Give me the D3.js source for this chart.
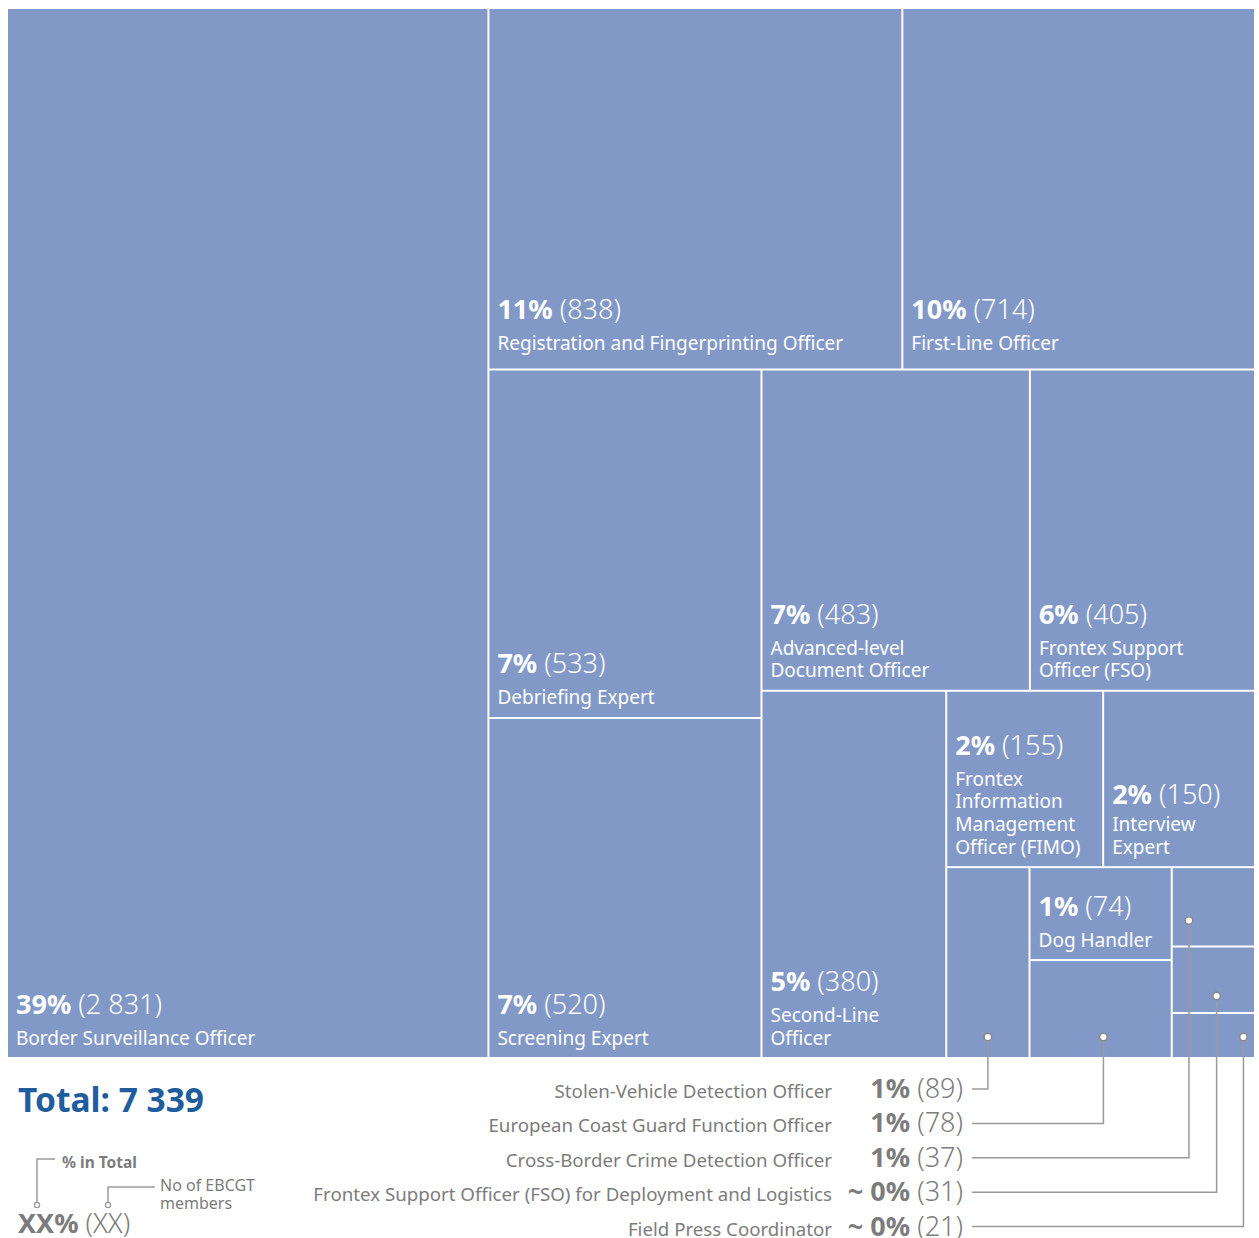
<!DOCTYPE html>
<html>
<head>
<meta charset="utf-8">
<script src="https://cdn.jsdelivr.net/npm/d3@7"></script>
<style>
  html, body { margin: 0; padding: 0; background: #fff; }
  svg { display: block; font-family: "Noto Sans", "Open Sans", sans-serif; }
</style>
</head>
<body>
<svg id="chart" width="1259" height="1238"></svg>
<script>
// EBCGT members by profile
const roles = [
  "Border Surveillance Officer",
  "Registration and Fingerprinting Officer",
  "First-Line Officer",
  "Debriefing Expert",
  "Screening Expert",
  "Advanced-level Document Officer",
  "Frontex Support Officer (FSO)",
  "Second-Line Officer",
  "Frontex Information Management Officer (FIMO)",
  "Interview Expert",
  "Stolen-Vehicle Detection Officer",
  "Dog Handler",
  "European Coast Guard Function Officer",
  "Cross-Border Crime Detection Officer",
  "Frontex Support Officer (FSO) for Deployment and Logistics",
  "Field Press Coordinator"
];
const members = [2831, 838, 714, 533, 520, 483, 405, 380, 155, 150, 89, 74, 78, 37, 31, 21];

// how names wrap inside their tiles
const cellLines = [
  ["Border Surveillance Officer"],
  ["Registration and Fingerprinting Officer"],
  ["First-Line Officer"],
  ["Debriefing Expert"],
  ["Screening Expert"],
  ["Advanced-level", "Document Officer"],
  ["Frontex Support", "Officer (FSO)"],
  ["Second-Line", "Officer"],
  ["Frontex", "Information", "Management", "Officer (FIMO)"],
  ["Interview", "Expert"],
  null, ["Dog Handler"], null, null, null, null
];

// tiles are grouped into strips, peeled off one strip at a time
const strips = [[0], [1, 2], [3, 4], [5, 6], [7], [8, 9], [10], [11, 12], [13, 14, 15]];

// small tiles labelled below the map, in row order
const callouts = [10, 12, 13, 14, 15];
const calloutFrac = [0.5, 0.52, 0.2, 0.54, 0.87];
const calloutLift = [20, 20, 25, 16, 20];

const fill = "#8299c8";
const grey = "#7c7c7c";
const lineGrey = "#9a9a9a";
const blue = "#1f5d9c";

const fmt = d3.formatLocale({ decimal: ".", thousands: " ", grouping: [3], currency: ["", ""] }).format(",d");
const total = d3.sum(members);
const shareLabel = v => {
  const p = Math.round(v / total * 100);
  return p === 0 ? "~ 0%" : p + "%";
};

// nested hierarchy from the strips
const leaf = i => ({ idx: i, value: members[i] });
const stripNode = s => s.length === 1 ? leaf(s[0]) : { children: s.map(leaf) };
function nest(k) {
  if (k === strips.length - 2) return { children: [stripNode(strips[k]), stripNode(strips[k + 1])] };
  return { children: [stripNode(strips[k]), nest(k + 1)] };
}
const root = d3.hierarchy(nest(0)).sum(d => d.value || 0);

// lay each group along its longer side
const tile = (node, x0, y0, x1, y1) =>
  (x1 - x0 > y1 - y0 ? d3.treemapDice : d3.treemapSlice)(node, x0, y0, x1, y1);

d3.treemap().tile(tile).size([1246, 1048]).paddingInner(2)(root);

const svg = d3.select("#chart");
const g = svg.append("g").attr("transform", "translate(8,9)");

const leaves = root.leaves();
const byIdx = new Map(leaves.map(d => [d.data.idx, d]));

g.selectAll("rect.cell")
  .data(leaves)
  .join("rect")
  .attr("class", "cell")
  .attr("x", d => d.x0)
  .attr("y", d => d.y0)
  .attr("width", d => d.x1 - d.x0)
  .attr("height", d => d.y1 - d.y0)
  .attr("fill", fill);

// labels inside tiles
const lineH = 22.6;
const lift = { 1: 6, 2: 6 };
const headGap = { 9: 27 };
leaves.filter(d => cellLines[d.data.idx]).forEach(d => {
  const i = d.data.idx;
  const lines = cellLines[i];
  const x = d.x0 + 8;
  const lastBase = d.y1 - 12.5 - (lift[i] || 0);
  const firstBase = lastBase - (lines.length - 1) * lineH;
  const pctBase = firstBase - (headGap[i] || 31);
  const t = g.append("text").attr("x", x).attr("y", pctBase).attr("fill", "#fff").attr("font-size", 27);
  t.append("tspan").attr("font-weight", 700).text(shareLabel(members[i]));
  t.append("tspan").attr("font-weight", 300).text(" (" + fmt(members[i]) + ")");
  const nm = g.append("text")
    .attr("x", x)
    .attr("y", firstBase)
    .attr("fill", "#fff")
    .attr("font-size", 19);
  lines.forEach((ln, k) => {
    nm.append("tspan").attr("x", x).attr("dy", k === 0 ? 0 : lineH).text(ln);
  });
});

// callouts for the smallest tiles
const rowY0 = 1080, rowStep = 34.4;
callouts.forEach((i, k) => {
  const d = byIdx.get(i);
  const cx = d.x0 + (d.x1 - d.x0) * calloutFrac[k];
  const cy = d.y1 - calloutLift[k];
  const ry = rowY0 + k * rowStep;
  g.append("path")
    .attr("d", `M${cx},${cy}V${ry}H964`)
    .attr("fill", "none")
    .attr("stroke", lineGrey)
    .attr("stroke-width", 1.5);
  g.append("circle")
    .attr("cx", cx).attr("cy", cy).attr("r", 3.8)
    .attr("fill", "#fff").attr("stroke", "#8a8a8a").attr("stroke-width", 1.6);
  const v = g.append("text")
    .attr("x", 955).attr("y", ry + 9)
    .attr("text-anchor", "end")
    .attr("fill", grey)
    .attr("font-size", 27);
  v.append("tspan").attr("font-weight", 700).text(shareLabel(members[i]));
  v.append("tspan").attr("font-weight", 300).text(" (" + fmt(members[i]) + ")");
  g.append("text")
    .attr("x", 824).attr("y", ry + 9)
    .attr("text-anchor", "end")
    .attr("fill", grey)
    .attr("font-size", 18.7)
    .text(roles[i]);
});

// total and key
svg.append("text")
  .attr("x", 18).attr("y", 1112)
  .attr("fill", blue)
  .attr("font-size", 33.5)
  .attr("font-weight", 700)
  .text("Total: " + fmt(total));

const key = svg.append("g");
key.append("path").attr("d", "M37,1205V1159H55").attr("fill", "none").attr("stroke", lineGrey).attr("stroke-width", 1.5);
key.append("path").attr("d", "M108,1205V1187H155").attr("fill", "none").attr("stroke", lineGrey).attr("stroke-width", 1.5);
[37, 108].forEach(x => key.append("circle").attr("cx", x).attr("cy", 1205).attr("r", 2.6)
  .attr("fill", "#fff").attr("stroke", lineGrey).attr("stroke-width", 1.3));
key.append("text").attr("x", 62).attr("y", 1168).attr("fill", grey).attr("font-size", 15.5).attr("font-weight", 700).text("% in Total");
const kn = key.append("text").attr("x", 160).attr("y", 1191).attr("fill", grey).attr("font-size", 16);
kn.append("tspan").attr("x", 160).text("No of EBCGT");
kn.append("tspan").attr("x", 160).attr("dy", 18).text("members");
const kx = key.append("text").attr("x", 18).attr("y", 1233).attr("fill", grey).attr("font-size", 27);
kx.append("tspan").attr("font-weight", 700).text("XX%");
kx.append("tspan").attr("font-weight", 300).text(" (XX)");
</script>
</body>
</html>
